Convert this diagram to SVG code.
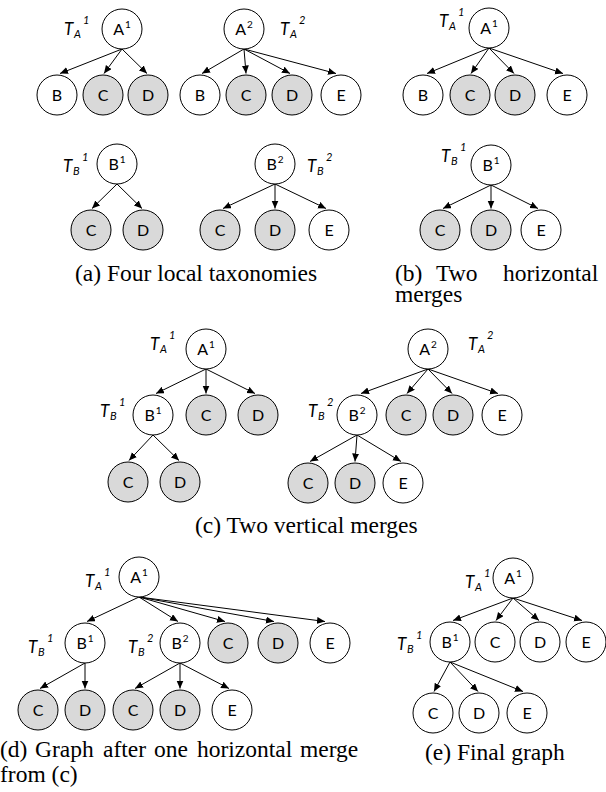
<svg xmlns="http://www.w3.org/2000/svg" width="606" height="792" viewBox="0 0 606 792">
<style>
.n circle{fill:#fff;stroke:#000;stroke-width:1}
.n.g circle{fill:#d9d9d9}
.n text{font-family:Lato,"Liberation Sans",sans-serif;font-size:16px;text-anchor:middle;fill:#000}
.n tspan{font-size:10px}
.lb text{font-family:Lato,"Liberation Sans",sans-serif;font-style:italic;font-size:17px;fill:#000}
.lb text.s{font-size:11px}
.cap{font-family:"Liberation Serif",serif;font-size:23.5px;fill:#000}
.e line{stroke:#000;stroke-width:1;marker-end:url(#ah)}
</style>
<defs>
<marker id="ah" markerUnits="userSpaceOnUse" markerWidth="9" markerHeight="8" refX="8" refY="3.5" orient="auto">
<path d="M0,0 L8,3.5 L0,7 z" fill="#000"/>
</marker>
</defs>

<g id="connectors" class="e">
<line x1="122" y1="49" x2="60" y2="73.5"/>
<line x1="122" y1="49" x2="104" y2="73.5"/>
<line x1="122" y1="49" x2="147" y2="73.5"/>
<line x1="244" y1="49" x2="202" y2="73.5"/>
<line x1="244" y1="49" x2="246" y2="73.5"/>
<line x1="244" y1="49" x2="290" y2="73.5"/>
<line x1="244" y1="49" x2="336" y2="73.5"/>
<line x1="489" y1="48" x2="427" y2="73.5"/>
<line x1="489" y1="48" x2="471" y2="73.5"/>
<line x1="489" y1="48" x2="514" y2="73.5"/>
<line x1="489" y1="48" x2="563" y2="73.5"/>
<line x1="117" y1="184" x2="92" y2="208.5"/>
<line x1="117" y1="184" x2="142" y2="208.5"/>
<line x1="275" y1="184" x2="223" y2="208.5"/>
<line x1="275" y1="184" x2="275" y2="208.5"/>
<line x1="275" y1="184" x2="326" y2="208.5"/>
<line x1="491" y1="185" x2="443" y2="208.5"/>
<line x1="491" y1="185" x2="491" y2="208.5"/>
<line x1="491" y1="185" x2="538" y2="208.5"/>
<line x1="206" y1="369" x2="156" y2="393.5"/>
<line x1="206" y1="369" x2="206" y2="393.5"/>
<line x1="206" y1="369" x2="255" y2="393.5"/>
<line x1="153" y1="435" x2="129" y2="460.5"/>
<line x1="153" y1="435" x2="179" y2="460.5"/>
<line x1="428" y1="369" x2="361" y2="393.5"/>
<line x1="428" y1="369" x2="407" y2="393.5"/>
<line x1="428" y1="369" x2="452" y2="393.5"/>
<line x1="428" y1="369" x2="498" y2="393.5"/>
<line x1="357" y1="435" x2="310" y2="461.5"/>
<line x1="357" y1="435" x2="355" y2="461.5"/>
<line x1="357" y1="435" x2="401" y2="461.5"/>
<line x1="139" y1="597" x2="87" y2="621.5"/>
<line x1="139" y1="597" x2="178" y2="621.5"/>
<line x1="139" y1="597" x2="225" y2="621.5"/>
<line x1="139" y1="597" x2="274" y2="621.5"/>
<line x1="139" y1="597" x2="325" y2="621.5"/>
<line x1="85" y1="663" x2="40" y2="688.5"/>
<line x1="85" y1="663" x2="85" y2="688.5"/>
<line x1="180" y1="663" x2="135" y2="688.5"/>
<line x1="180" y1="663" x2="180" y2="688.5"/>
<line x1="180" y1="663" x2="229" y2="688.5"/>
<line x1="513" y1="598" x2="453" y2="620.5"/>
<line x1="513" y1="598" x2="496" y2="620.5"/>
<line x1="513" y1="598" x2="539" y2="620.5"/>
<line x1="513" y1="598" x2="582" y2="620.5"/>
<line x1="450" y1="662" x2="434" y2="691.5"/>
<line x1="450" y1="662" x2="478" y2="691.5"/>
<line x1="450" y1="662" x2="523" y2="691.5"/>
</g>

<g id="a-A1" class="n"><circle cx="122" cy="29" r="20"/><text x="122" y="35">A<tspan dx="1" dy="-7">1</tspan></text></g>
<g id="a-A1-B" class="n"><circle cx="57" cy="95" r="20"/><text x="57" y="101">B</text></g>
<g id="a-A1-C" class="n g"><circle cx="103" cy="95" r="20"/><text x="103" y="101">C</text></g>
<g id="a-A1-D" class="n g"><circle cx="148" cy="95" r="20"/><text x="148" y="101">D</text></g>
<g id="a-A2" class="n"><circle cx="244" cy="29" r="20"/><text x="244" y="35">A<tspan dx="1" dy="-7">2</tspan></text></g>
<g id="a-A2-B" class="n"><circle cx="200" cy="95" r="20"/><text x="200" y="101">B</text></g>
<g id="a-A2-C" class="n g"><circle cx="246" cy="95" r="20"/><text x="246" y="101">C</text></g>
<g id="a-A2-D" class="n g"><circle cx="292" cy="95" r="20"/><text x="292" y="101">D</text></g>
<g id="a-A2-E" class="n"><circle cx="341" cy="95" r="20"/><text x="341" y="101">E</text></g>
<g id="a-B1" class="n"><circle cx="117" cy="164" r="20"/><text x="117" y="170">B<tspan dx="1" dy="-7">1</tspan></text></g>
<g id="a-B1-C" class="n g"><circle cx="91" cy="230" r="20"/><text x="91" y="236">C</text></g>
<g id="a-B1-D" class="n g"><circle cx="143" cy="230" r="20"/><text x="143" y="236">D</text></g>
<g id="a-B2" class="n"><circle cx="275" cy="164" r="20"/><text x="275" y="170">B<tspan dx="1" dy="-7">2</tspan></text></g>
<g id="a-B2-C" class="n g"><circle cx="220" cy="230" r="20"/><text x="220" y="236">C</text></g>
<g id="a-B2-D" class="n g"><circle cx="275" cy="230" r="20"/><text x="275" y="236">D</text></g>
<g id="a-B2-E" class="n"><circle cx="329" cy="230" r="20"/><text x="329" y="236">E</text></g>

<g id="b-A1" class="n"><circle cx="489" cy="28" r="20"/><text x="489" y="34">A<tspan dx="1" dy="-7">1</tspan></text></g>
<g id="b-A1-B" class="n"><circle cx="423" cy="95" r="20"/><text x="423" y="101">B</text></g>
<g id="b-A1-C" class="n g"><circle cx="470" cy="95" r="20"/><text x="470" y="101">C</text></g>
<g id="b-A1-D" class="n g"><circle cx="515" cy="95" r="20"/><text x="515" y="101">D</text></g>
<g id="b-A1-E" class="n"><circle cx="567" cy="95" r="20"/><text x="567" y="101">E</text></g>
<g id="b-B1" class="n"><circle cx="491" cy="165" r="20"/><text x="491" y="171">B<tspan dx="1" dy="-7">1</tspan></text></g>
<g id="b-B1-C" class="n g"><circle cx="440" cy="230" r="20"/><text x="440" y="236">C</text></g>
<g id="b-B1-D" class="n g"><circle cx="491" cy="230" r="20"/><text x="491" y="236">D</text></g>
<g id="b-B1-E" class="n"><circle cx="541" cy="230" r="20"/><text x="541" y="236">E</text></g>

<g id="c-A1" class="n"><circle cx="206" cy="349" r="20"/><text x="206" y="355">A<tspan dx="1" dy="-7">1</tspan></text></g>
<g id="c-B1" class="n"><circle cx="153" cy="415" r="20"/><text x="153" y="421">B<tspan dx="1" dy="-7">1</tspan></text></g>
<g id="c-A1-C" class="n g"><circle cx="206" cy="415" r="20"/><text x="206" y="421">C</text></g>
<g id="c-A1-D" class="n g"><circle cx="258" cy="415" r="20"/><text x="258" y="421">D</text></g>
<g id="c-B1-C" class="n g"><circle cx="128" cy="482" r="20"/><text x="128" y="488">C</text></g>
<g id="c-B1-D" class="n g"><circle cx="180" cy="482" r="20"/><text x="180" y="488">D</text></g>
<g id="c-A2" class="n"><circle cx="428" cy="349" r="20"/><text x="428" y="355">A<tspan dx="1" dy="-7">2</tspan></text></g>
<g id="c-B2" class="n"><circle cx="357" cy="415" r="20"/><text x="357" y="421">B<tspan dx="1" dy="-7">2</tspan></text></g>
<g id="c-A2-C" class="n g"><circle cx="406" cy="415" r="20"/><text x="406" y="421">C</text></g>
<g id="c-A2-D" class="n g"><circle cx="453" cy="415" r="20"/><text x="453" y="421">D</text></g>
<g id="c-A2-E" class="n"><circle cx="502" cy="415" r="20"/><text x="502" y="421">E</text></g>
<g id="c-B2-C" class="n g"><circle cx="308" cy="483" r="20"/><text x="308" y="489">C</text></g>
<g id="c-B2-D" class="n g"><circle cx="355" cy="483" r="20"/><text x="355" y="489">D</text></g>
<g id="c-B2-E" class="n"><circle cx="403" cy="483" r="20"/><text x="403" y="489">E</text></g>

<g id="d-A1" class="n"><circle cx="139" cy="577" r="20"/><text x="139" y="583">A<tspan dx="1" dy="-7">1</tspan></text></g>
<g id="d-B1" class="n"><circle cx="85" cy="643" r="20"/><text x="85" y="649">B<tspan dx="1" dy="-7">1</tspan></text></g>
<g id="d-B2" class="n"><circle cx="180" cy="643" r="20"/><text x="180" y="649">B<tspan dx="1" dy="-7">2</tspan></text></g>
<g id="d-A1-C" class="n g"><circle cx="228" cy="643" r="20"/><text x="228" y="649">C</text></g>
<g id="d-A1-D" class="n g"><circle cx="278" cy="643" r="20"/><text x="278" y="649">D</text></g>
<g id="d-A1-E" class="n"><circle cx="330" cy="643" r="20"/><text x="330" y="649">E</text></g>
<g id="d-B1-C" class="n g"><circle cx="38" cy="710" r="20"/><text x="38" y="716">C</text></g>
<g id="d-B1-D" class="n g"><circle cx="85" cy="710" r="20"/><text x="85" y="716">D</text></g>
<g id="d-B2-C" class="n g"><circle cx="133" cy="710" r="20"/><text x="133" y="716">C</text></g>
<g id="d-B2-D" class="n g"><circle cx="180" cy="710" r="20"/><text x="180" y="716">D</text></g>
<g id="d-B2-E" class="n"><circle cx="232" cy="710" r="20"/><text x="232" y="716">E</text></g>

<g id="e-A1" class="n"><circle cx="513" cy="578" r="20"/><text x="513" y="584">A<tspan dx="1" dy="-7">1</tspan></text></g>
<g id="e-B1" class="n"><circle cx="450" cy="642" r="20"/><text x="450" y="648">B<tspan dx="1" dy="-7">1</tspan></text></g>
<g id="e-A1-C" class="n"><circle cx="495" cy="642" r="20"/><text x="495" y="648">C</text></g>
<g id="e-A1-D" class="n"><circle cx="540" cy="642" r="20"/><text x="540" y="648">D</text></g>
<g id="e-A1-E" class="n"><circle cx="586" cy="642" r="20"/><text x="586" y="648">E</text></g>
<g id="e-B1-C" class="n"><circle cx="433" cy="713" r="20"/><text x="433" y="719">C</text></g>
<g id="e-B1-D" class="n"><circle cx="479" cy="713" r="20"/><text x="479" y="719">D</text></g>
<g id="e-B1-E" class="n"><circle cx="527" cy="713" r="20"/><text x="527" y="719">E</text></g>

<g id="lbl-a-TA1" class="lb"><text x="64" y="35">T</text><text class="s" x="74" y="38">A</text><text class="s" x="83" y="24">1</text></g>
<g id="lbl-a-TA2" class="lb"><text x="280" y="35">T</text><text class="s" x="290" y="38">A</text><text class="s" x="299" y="24">2</text></g>
<g id="lbl-a-TB1" class="lb"><text x="63" y="172">T</text><text class="s" x="73" y="175">B</text><text class="s" x="82" y="161">1</text></g>
<g id="lbl-a-TB2" class="lb"><text x="307" y="172">T</text><text class="s" x="317" y="175">B</text><text class="s" x="326" y="161">2</text></g>
<g id="lbl-b-TA1" class="lb"><text x="439" y="27">T</text><text class="s" x="449" y="30">A</text><text class="s" x="458" y="16">1</text></g>
<g id="lbl-b-TB1" class="lb"><text x="441" y="162">T</text><text class="s" x="451" y="165">B</text><text class="s" x="460" y="151">1</text></g>
<g id="lbl-c-TA1" class="lb"><text x="150" y="350">T</text><text class="s" x="160" y="353">A</text><text class="s" x="169" y="339">1</text></g>
<g id="lbl-c-TB1" class="lb"><text x="100" y="417">T</text><text class="s" x="110" y="420">B</text><text class="s" x="119" y="406">1</text></g>
<g id="lbl-c-TA2" class="lb"><text x="468" y="350">T</text><text class="s" x="478" y="353">A</text><text class="s" x="487" y="339">2</text></g>
<g id="lbl-c-TB2" class="lb"><text x="308" y="417">T</text><text class="s" x="318" y="420">B</text><text class="s" x="327" y="406">2</text></g>
<g id="lbl-d-TA1" class="lb"><text x="85" y="587">T</text><text class="s" x="95" y="590">A</text><text class="s" x="104" y="576">1</text></g>
<g id="lbl-d-TB1" class="lb"><text x="28" y="653">T</text><text class="s" x="38" y="656">B</text><text class="s" x="47" y="642">1</text></g>
<g id="lbl-d-TB2" class="lb"><text x="128" y="653">T</text><text class="s" x="138" y="656">B</text><text class="s" x="147" y="642">2</text></g>
<g id="lbl-e-TA1" class="lb"><text x="465" y="588">T</text><text class="s" x="475" y="591">A</text><text class="s" x="484" y="577">1</text></g>
<g id="lbl-e-TB1" class="lb"><text x="397" y="650">T</text><text class="s" x="407" y="653">B</text><text class="s" x="416" y="639">1</text></g>

<text class="cap" x="75" y="281">(a) Four local taxonomies</text>
<text class="cap"><tspan x="395" y="281">(b)</tspan><tspan x="436" y="281">Two</tspan><tspan x="503" y="281">horizontal</tspan><tspan x="395" y="302">merges</tspan></text>
<text class="cap" x="195" y="533">(c) Two vertical merges</text>
<text class="cap"><tspan x="0" y="757">(d)</tspan><tspan x="35" y="757">Graph</tspan><tspan x="103" y="757">after</tspan><tspan x="154" y="757">one</tspan><tspan x="197" y="757">horizontal</tspan><tspan x="300" y="757">merge</tspan><tspan x="0" y="782">from (c)</tspan></text>
<text class="cap" x="425" y="760">(e) Final graph</text>
</svg>
